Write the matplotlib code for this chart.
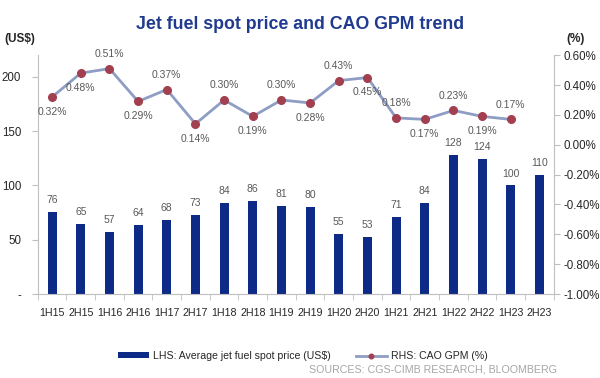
import matplotlib
matplotlib.use('Agg')
import matplotlib.pyplot as plt
from matplotlib.ticker import FuncFormatter, MultipleLocator
import numpy as np

plt.rcParams['font.family'] = ['Liberation Sans', 'DejaVu Sans']

periods = ['1H15', '2H15', '1H16', '2H16', '1H17', '2H17', '1H18', '2H18', '1H19',
           '2H19', '1H20', '2H20', '1H21', '2H21', '1H22', '2H22', '1H23', '2H23']
jet_fuel = [76, 65, 57, 64, 68, 73, 84, 86, 81, 80, 55, 53, 71, 84, 128, 124, 100, 110]
# GPM (%) has no value for 2H23
gpm = [0.32, 0.48, 0.51, 0.29, 0.37, 0.14, 0.30, 0.19, 0.30, 0.28, 0.43, 0.45,
       0.18, 0.17, 0.23, 0.19, 0.17]
# label placement for the GPM points: 1 above, -1 below
gpm_label_side = [-1, -1, 1, -1, 1, -1, 1, -1, 1, -1, 1, -1, 1, -1, 1, -1, 1]

BAR_COLOR = '#0d2a86'
LINE_COLOR = '#8d9dc4'
MARKER_COLOR = '#a3404f'
TEXT_GRAY = '#595959'
SPINE_GRAY = '#bfbfbf'

fig = plt.figure(figsize=(6, 3.78), dpi=100)
ax = fig.add_axes([0.063, 0.222, 0.86, 0.632])
ax2 = ax.twinx()

x = np.arange(len(periods))
ax.bar(x, jet_fuel, width=0.31, color=BAR_COLOR, label='LHS: Average jet fuel spot price (US$)', zorder=2)
for xi, v in zip(x, jet_fuel):
    ax.annotate(str(v), (xi, v), xytext=(0, 5), textcoords='offset points',
                ha='center', va='bottom', fontsize=7.5, color=TEXT_GRAY)

xg = x[:len(gpm)]
ax2.plot(xg, gpm, color=LINE_COLOR, lw=2, marker='o', ms=5.5,
         markerfacecolor=MARKER_COLOR, markeredgecolor=MARKER_COLOR,
         label='RHS: CAO GPM (%)', zorder=3)
for xi, v, s in zip(xg, gpm, gpm_label_side):
    ax2.annotate(f'{v:.2f}%', (xi, v), xytext=(0, 7 * s), textcoords='offset points',
                 ha='center', va='bottom' if s > 0 else 'top', fontsize=7.5, color=TEXT_GRAY)

ax.set_xlim(-0.5, len(periods) - 0.5)
ax.set_ylim(0, 220)
ax.yaxis.set_major_locator(MultipleLocator(50))
ax.yaxis.set_major_formatter(FuncFormatter(lambda v, p: '-' if v == 0 else f'{v:.0f}'))
ax2.set_ylim(-1.0, 0.6)
ax2.yaxis.set_major_locator(MultipleLocator(0.2))
ax2.yaxis.set_major_formatter(FuncFormatter(lambda v, p: f'{v:.2f}%'))

ax.set_xticks(x)
ax.set_xticklabels(periods)
ax.set_xticks(np.arange(-0.5, len(periods), 1), minor=True)
ax.tick_params(axis='x', which='major', length=0, pad=10, labelsize=7.7, colors='#262626')
ax.tick_params(axis='x', which='minor', length=4, color=SPINE_GRAY)
ax.tick_params(axis='y', length=4, color=SPINE_GRAY, labelsize=8.3, labelcolor='#262626', pad=8)
ax2.tick_params(axis='y', length=4, color=SPINE_GRAY, labelsize=8.3, labelcolor='#262626', pad=3)

for a in (ax, ax2):
    a.spines['top'].set_visible(False)
    for s in ('left', 'right', 'bottom'):
        a.spines[s].set_color(SPINE_GRAY)
ax.spines['right'].set_visible(False)
ax2.spines['left'].set_visible(False)
ax2.spines['bottom'].set_visible(False)

fig.text(0.5, 0.935, 'Jet fuel spot price and CAO GPM trend', ha='center', va='center',
         fontsize=12.8, fontweight='bold', color='#1f3a8f')
fig.text(0.008, 0.898, '(US$)', ha='left', va='center', fontsize=8.5, fontweight='bold', color='#262626')
fig.text(0.975, 0.898, '(%)', ha='right', va='center', fontsize=8.5, fontweight='bold', color='#262626')

h1, l1 = ax.get_legend_handles_labels()
h2, l2 = ax2.get_legend_handles_labels()
fig.legend(h1 + h2, l1 + l2, loc='center', bbox_to_anchor=(0.505, 0.058), ncol=2, frameon=False,
           fontsize=7.6, handlelength=2.9, handleheight=0.45, columnspacing=2.4, handletextpad=0.4,
           labelcolor='#262626', markerscale=0.6)

fig.text(0.928, 0.022, 'SOURCES: CGS-CIMB RESEARCH, BLOOMBERG', ha='right', va='center',
         fontsize=7.7, color='#a6a6a6')

fig.savefig('out.png', dpi=100)
